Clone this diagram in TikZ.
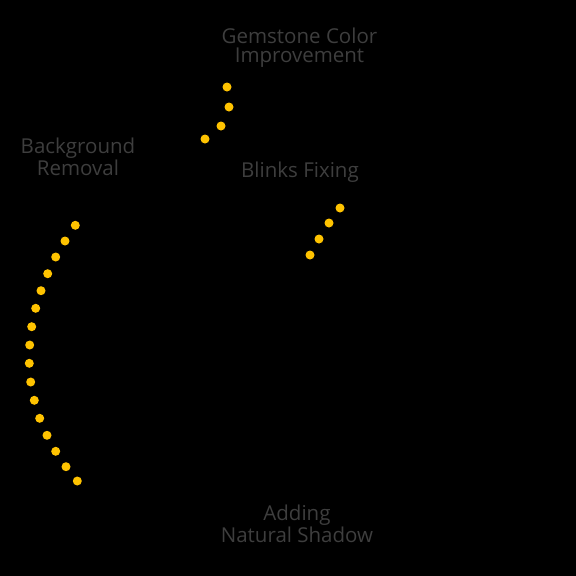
\documentclass[tikz,border=0pt]{standalone}
\usepackage{fontspec}
\setmainfont{Open Sans}
\usepackage{xcolor}
\usepackage{tikz}
\definecolor{label}{HTML}{3E3E3E}
\definecolor{gold}{HTML}{FFC300}

\begin{document}
\begin{tikzpicture}[x=1pt, y=-1pt,
  steplabel/.style={text=label, align=center, inner sep=0pt,
                    font=\fontsize{20.5}{19}\selectfont},
  dot/.style={circle, fill=gold, minimum size=9pt, inner sep=0pt}
]

\fill[black] (0,0) rectangle (576,576);
\useasboundingbox (0,0) rectangle (576,576);

\node[steplabel] (gemstone) at (299.5,48) {Gemstone Color\\Improvement};
\node[steplabel] (background) at (78,157) {Background\\Removal};
\node[steplabel] (blinks) at (300,172) {Blinks Fixing};
\node[steplabel] (shadow) at (297,524) {Adding\\Natural Shadow};

% dots under the gemstone label
\foreach \x/\y [count=\i] in {227/87, 229/107, 221/126, 205/139}
  \node[dot] (g\i) at (\x,\y) {};

% dots under the blinks label
\foreach \x/\y [count=\i] in {340/208, 329/223, 319/239, 310/255}
  \node[dot] (b\i) at (\x,\y) {};

% left arc
\foreach \x/\y [count=\i] in {75.3/225.3, 65/241, 55.7/257, 47.7/273.7,
    41/290.7, 35.7/308.3, 31.7/326.7, 29.7/345, 29.3/363.3, 30.7/382,
    34.3/400.3, 39.7/418.3, 47/435.3, 55.7/451.3, 66/466.7, 77.3/481}
  \node[dot] (a\i) at (\x,\y) {};

\end{tikzpicture}
\end{document}
